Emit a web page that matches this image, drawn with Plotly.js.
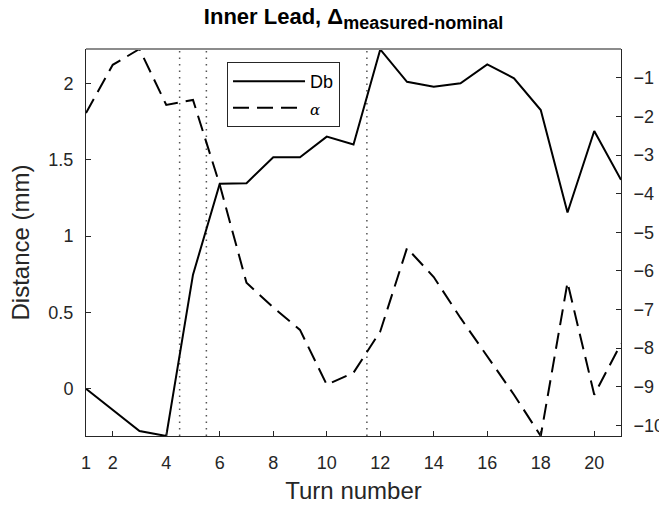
<!DOCTYPE html>
<html>
<head>
<meta charset="utf-8">
<script src="https://cdn.plot.ly/plotly-3.0.1.min.js"></script>
<style>html,body{margin:0;padding:0;background:#fff;}#chart{width:659px;height:510px;}</style>
</head>
<body>
<div id="chart"></div>
<script>
const turns = [1,2,3,4,5,6,7,8,9,10,11,12,13,14,15,16,17,18,19,20,21];
const dbValues = [0, -0.14, -0.277, -0.31, 0.747, 1.342, 1.346, 1.516, 1.516, 1.651, 1.60, 2.222, 2.01, 1.978, 2.0, 2.124, 2.033, 1.825, 1.154, 1.688, 1.368];
const alphaValues = [-1.91, -0.66, -0.25, -1.70, -1.57, -3.77, -6.31, -6.95, -7.53, -8.95, -8.64, -7.57, -5.41, -6.16, -7.22, -8.23, -9.21, -10.28, -6.30, -9.21, -7.89];
const markerTurns = [4.5, 5.5, 11.5];
const xTickVals = [1,2,4,6,8,10,12,14,16,18,20];
const leftTickVals = [0, 0.5, 1, 1.5, 2];
const leftTickText = ['0','0.5','1','1.5','2'];
const rightTickVals = [-1,-2,-3,-4,-5,-6,-7,-8,-9,-10];

const axisColor = '#262626';
const fontFam = 'Liberation Sans, Arial, Helvetica, sans-serif';

const traces = [
  {x: turns, y: dbValues, name: 'Db', type: 'scatter', mode: 'lines',
   line: {color: '#000', width: 2}, xaxis: 'x', yaxis: 'y'},
  {x: turns, y: alphaValues, name: '<span style="font-family:DejaVu Serif, serif;font-style:italic;font-size:15px">α</span>', type: 'scatter', mode: 'lines',
   line: {color: '#000', width: 2, dash: '16px,8px'}, xaxis: 'x', yaxis: 'y2'}
];

const shapes = markerTurns.map(t => ({
  type: 'line', xref: 'x', yref: 'paper', x0: t, x1: t, y0: 0, y1: 1,
  line: {color: '#555', width: 1.5, dash: '1.5px,5px'}, layer: 'below'
}));
shapes.push({type: 'line', xref: 'paper', yref: 'paper', x0: 0, x1: 1, y0: 1, y1: 1,
  line: {color: '#8c8c8c', width: 2}});

const layout = {
  width: 659, height: 510,
  margin: {l: 86, r: 38, t: 49, b: 74, pad: 0},
  paper_bgcolor: '#fff', plot_bgcolor: '#fff',
  font: {family: fontFam, color: axisColor, size: 18},
  title: {
    text: '<b>Inner Lead, Δ<sub><span style="font-size:18px">measured-nominal</span></sub></b>',
    font: {family: fontFam, size: 22, color: '#000'},
    x: 0.5, xref: 'paper', xanchor: 'center', y: 0.968, yref: 'container', yanchor: 'middle'
  },
  showlegend: true,
  legend: {
    x: 0.2636, y: 0.966, xanchor: 'left', yanchor: 'top',
    bgcolor: '#fff', bordercolor: axisColor, borderwidth: 1,
    font: {family: fontFam, size: 18, color: '#000'},
    itemwidth: 72, tracegroupgap: 0
  },
  xaxis: {
    range: [1, 21], tickmode: 'array', tickvals: xTickVals,
    ticks: 'inside', ticklen: 5, tickcolor: axisColor, tickwidth: 1,
    showline: true, linecolor: axisColor, linewidth: 1, mirror: false,
    showgrid: false, zeroline: false,
    tickfont: {size: 18, color: axisColor}, ticklabelstandoff: 10,
    title: {text: 'Turn number', font: {size: 24, color: axisColor}, standoff: 10}
  },
  yaxis: {
    range: [-0.31, 2.225], tickmode: 'array', tickvals: leftTickVals, ticktext: leftTickText,
    ticks: 'inside', ticklen: 5, tickcolor: axisColor, tickwidth: 1,
    showline: true, linecolor: axisColor, linewidth: 1,
    showgrid: false, zeroline: false,
    tickfont: {size: 18, color: axisColor}, ticklabelstandoff: 8,
    title: {text: 'Distance (mm)', font: {size: 24, color: axisColor}, standoff: 11}
  },
  yaxis2: {
    range: [-10.28, -0.25], overlaying: 'y', side: 'right', tickmode: 'array', tickvals: rightTickVals,
    ticks: 'inside', ticklen: 5, tickcolor: axisColor, tickwidth: 1,
    showline: true, linecolor: axisColor, linewidth: 1,
    showgrid: false, zeroline: false,
    tickfont: {size: 18, color: axisColor}, ticklabelstandoff: 8
  },
  shapes: shapes
};

Plotly.newPlot('chart', traces, layout, {displayModeBar: false, staticPlot: true});
</script>
</body>
</html>
